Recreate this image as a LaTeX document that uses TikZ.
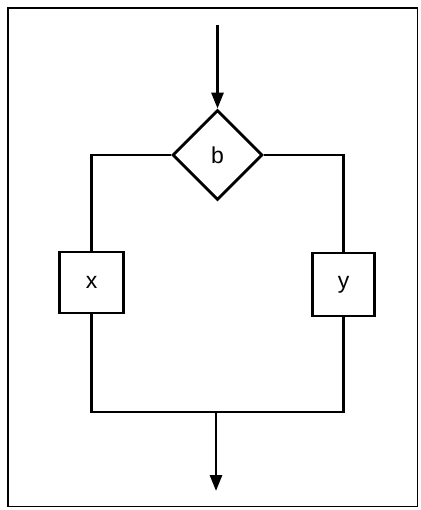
\documentclass[tikz,border=0pt]{standalone}
\usepackage{fontspec}
\setmainfont{Liberation Sans}
\usetikzlibrary{shapes.geometric,arrows.meta}
\begin{document}
\begin{tikzpicture}[x=1pt,y=1pt,
  flow/.style={line width=2.8pt},
  arr/.style={flow,-{Triangle[length=16pt,width=12pt]}},
  boxn/.style={draw,line width=2.8pt,minimum width=64pt,minimum height=61pt,inner sep=0pt,font=\fontsize{23}{26}\selectfont},
  dia/.style={draw,diamond,line width=2.8pt,minimum width=90pt,minimum height=90pt,inner sep=0pt,font=\fontsize{23}{26}\selectfont}]
\useasboundingbox (0,0) rectangle (420,-510);
\draw[line width=1.6pt] (8,-8) rectangle (417.5,-506.5);
\node[dia] (d) at (217.5,-155) {b};
\node[boxn] (x) at (91.5,-282.5) {x};
\node[boxn,minimum width=62pt,minimum height=63pt] (y) at (343.5,-284.5) {y};
\coordinate (start) at (217.5,-25);
\coordinate (join) at (216,-412);
\coordinate (end) at (216,-491);
\draw[arr] (start) -- (d.north);
\draw[flow] (d.west) -| (x.north);
\draw[flow] (d.east) -| (y.north);
\draw[flow] (x.south) |- (join) -| (y.south);
\draw[arr] (join) -- (end);
\end{tikzpicture}
\end{document}
